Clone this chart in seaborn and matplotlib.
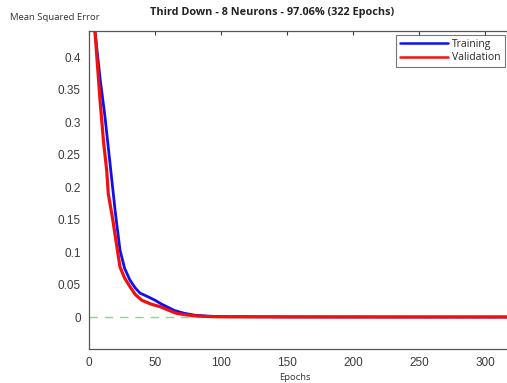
import matplotlib
matplotlib.use("Agg")
import matplotlib.pyplot as plt
import seaborn as sns
import pandas as pd

# Data
train_epochs = [0, 4.5, 8.5, 12, 16, 20, 23.5, 27, 31, 35, 38.6, 44, 50, 55, 59, 65, 72, 80, 90, 100, 150, 200, 250, 300, 322]
train_mse = [0.54, 0.44, 0.365, 0.31, 0.235, 0.16, 0.103, 0.075, 0.057, 0.045, 0.037, 0.032, 0.026, 0.020, 0.016, 0.010, 0.006, 0.003, 0.0015, 0.0008, 0.0004, 0.0003, 0.0002, 0.0002, 0.0002]
val_epochs = [0, 4.5, 8.5, 11, 13.4, 14.6, 18, 21, 23.5, 27, 31, 35, 40, 47, 54, 60, 66, 72, 80, 90, 100, 150, 200, 250, 300, 322]
val_mse = [0.54, 0.44, 0.33, 0.27, 0.226, 0.19, 0.15, 0.11, 0.077, 0.060, 0.047, 0.035, 0.026, 0.020, 0.016, 0.011, 0.006, 0.004, 0.002, 0.001, 0.0005, 0.0003, 0.0002, 0.0002, 0.0002, 0.0002]
goal = 0.0

title_text = "Third Down - 8 Neurons - 97.06% (322 Epochs)"
ylabel_text = "Mean Squared Error"
xlabel_text = "Epochs"
xticks = [0, 50, 100, 150, 200, 250, 300]
yticks = [0, 0.05, 0.1, 0.15, 0.2, 0.25, 0.3, 0.35, 0.4]
ytick_labels = ["0", "0.05", "0.1", "0.15", "0.2", "0.25", "0.3", "0.35", "0.4"]

sns.set_style("white")
plt.rcParams['font.family'] = ['Liberation Sans', 'DejaVu Sans']

fig = plt.figure(figsize=(5.07, 3.83), dpi=100)
ax = fig.add_axes([89/507, 34/383, (514-89)/507, (349-31)/383])

df_t = pd.DataFrame({"Epoch": train_epochs, "MSE": train_mse})
df_v = pd.DataFrame({"Epoch": val_epochs, "MSE": val_mse})

ax.axhline(goal, color="#7fdc7f", lw=1.0, ls=(0, (6, 5)), zorder=1)
sns.lineplot(data=df_t, x="Epoch", y="MSE", ax=ax, color="#1010ee", lw=2.0, label="Training", zorder=2)
sns.lineplot(data=df_v, x="Epoch", y="MSE", ax=ax, color="#ee1111", lw=2.3, label="Validation", zorder=3)

ax.set_xlim(0, 322)
ax.set_ylim(-0.049, 0.44)
ax.set_xticks(xticks)
ax.set_yticks(yticks)
ax.set_yticklabels(ytick_labels)
ax.set_xlabel("")
ax.set_ylabel("")
ax.tick_params(direction="in", length=3, width=0.8, top=True, right=True,
               labelsize=8.5, colors="#3a3a3a", pad=6)
for s in ax.spines.values():
    s.set_color("#555555")
    s.set_linewidth(0.9)

leg = ax.legend(loc="upper left", frameon=True, fancybox=False, edgecolor="#555555",
                handlelength=4.6, borderpad=0.35, labelspacing=0.25, handletextpad=0.45,
                borderaxespad=0, prop={'family': ['Open Sans', 'DejaVu Sans'], 'size': 7.5})
leg.get_frame().set_linewidth(0.8)
for line in leg.get_lines():
    line.set_linewidth(1.8)
leg.set_bbox_to_anchor(((396 - 89) / (514 - 89), (349 - 35) / 318), transform=ax.transAxes)

fig.text(272/507, 1 - 12/383, title_text, ha="center", va="center",
         fontsize=7.8, fontweight="bold", family=['Open Sans', 'DejaVu Sans'], color="#222222")
fig.text(10/507, 1 - 18/383, ylabel_text, ha="left", va="center",
         fontsize=6.8, family=['Open Sans', 'DejaVu Sans'], color="#333333")
fig.text(295/507, 1 - 377/383, xlabel_text, ha="center", va="center",
         fontsize=6.8, family=['Open Sans', 'DejaVu Sans'], color="#333333")

fig.savefig("out.png", dpi=100)
